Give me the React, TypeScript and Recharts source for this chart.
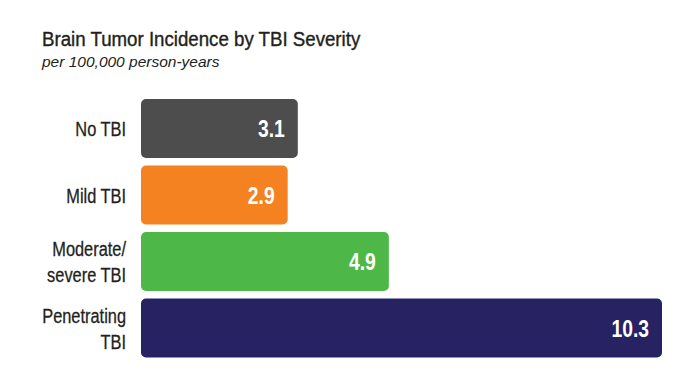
import React from "react";
import { BarChart, Bar, XAxis, YAxis, Cell, LabelList } from "recharts";

const categories = ["No TBI", "Mild TBI", "Moderate/\nsevere TBI", "Penetrating\nTBI"];
const values = [3.1, 2.9, 4.9, 10.3];
const colors = ["#4d4d4d", "#f58220", "#4db848", "#272262"];
const valueLabels = ["3.1", "2.9", "4.9", "10.3"];

const data = categories.map((c, i) => ({ name: c, value: values[i], label: valueLabels[i] }));

const FONT = "'Liberation Sans', Arial, sans-serif";

const CategoryTick = (props: any) => {
  const { x, y, payload } = props;
  const lines = String(payload.value).split("\n");
  const offsets = lines.length === 1 ? [8] : [-5, 21];
  return (
    <g>
      {lines.map((l, i) => (
        <text
          key={i}
          transform={`translate(${x - 15},${y + offsets[i]}) scale(0.78,1)`}
          x={0}
          y={0}
          textAnchor="end"
          fontFamily={FONT}
          fontSize={21}
          fill="#231f20"
          stroke="#231f20"
          strokeWidth={0.3}
        >
          {l}
        </text>
      ))}
    </g>
  );
};

const ValueLabel = (props: any) => {
  const { x, y, width, height, index } = props;
  return (
    <text
      transform={`translate(${x + width - 13},${y + height / 2 + 8.5}) scale(0.84,1)`}
      x={0}
      y={0}
      textAnchor="end"
      fontFamily={FONT}
      fontWeight="bold"
      fontSize={23}
      fill="#ffffff"
    >
      {valueLabels[index]}
    </text>
  );
};

export default function App() {
  return (
    <div style={{ position: "absolute", left: 0, top: 0, width: 690, height: 388, background: "#fff" }}>
      <BarChart
        width={690}
        height={388}
        data={data}
        layout="vertical"
        margin={{ top: 95, right: 28, bottom: 27, left: 0 }}
      >
        <XAxis type="number" domain={[0, 10.3]} hide />
        <YAxis
          type="category"
          dataKey="name"
          width={141}
          axisLine={false}
          tickLine={false}
          tickSize={0}
          tickMargin={0}
          tick={<CategoryTick />}
          interval={0}
        />
        <Bar dataKey="value" barSize={59} radius={5} isAnimationActive={false}>
          {data.map((d, i) => (
            <Cell key={i} fill={colors[i]} />
          ))}
          <LabelList dataKey="label" content={<ValueLabel />} />
        </Bar>
      </BarChart>
      <svg width={690} height={388} style={{ position: "absolute", left: 0, top: 0, pointerEvents: "none" }}>
        <text
          transform="translate(42,46) scale(0.89,1)"
          x={0}
          y={0}
          fontFamily={FONT}
          fontSize={21}
          fill="#231f20"
          stroke="#231f20"
          strokeWidth={0.4}
        >
          Brain Tumor Incidence by TBI Severity
        </text>
        <text x={42} y={67} fontFamily={FONT} fontStyle="italic" fontSize={15.5} fill="#231f20">
          per 100,000 person-years
        </text>
      </svg>
    </div>
  );
}
